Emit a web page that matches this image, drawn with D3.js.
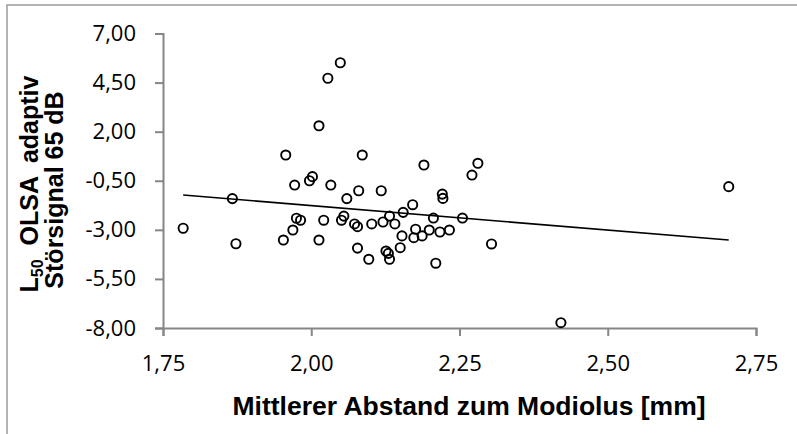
<!DOCTYPE html>
<html>
<head>
<meta charset="utf-8">
<script src="https://cdn.jsdelivr.net/npm/d3@7"></script>
<style>
  html, body { margin: 0; padding: 0; background: #fff; }
  svg { display: block; }
</style>
</head>
<body>
<svg id="chart" width="797" height="434"></svg>
<script>
// Mittlerer Abstand zum Modiolus [mm] vs. L50 OLSA adaptiv (Störsignal 65 dB)
const abstand = [
  2.049, 2.028, 2.013, 1.957, 2.086, 1.784, 1.867, 1.873, 1.953, 1.969,
  1.975, 1.982, 1.972, 1.997, 2.002, 2.013, 2.021, 2.033, 2.051, 2.055,
  2.060, 2.073, 2.078, 2.080, 2.078, 2.097, 2.102, 2.118, 2.121, 2.132,
  2.126, 2.130, 2.132, 2.141, 2.155, 2.171, 2.153, 2.150, 2.176, 2.173,
  2.187, 2.199, 2.206, 2.217, 2.233, 2.255, 2.221, 2.222, 2.190, 2.271,
  2.281, 2.304, 2.210, 2.421, 2.704
];
const l50 = [
  5.51, 4.72, 2.30, 0.81, 0.81, -2.92, -1.41, -3.71, -3.52, -3.01,
  -2.41, -2.51, -0.72, -0.50, -0.29, -3.52, -2.51, -0.72, -2.51, -2.30,
  -1.41, -2.70, -2.84, -1.01, -3.93, -4.50, -2.70, -1.01, -2.60, -2.30,
  -4.08, -4.20, -4.50, -2.70, -2.11, -1.72, -3.31, -3.91, -2.97, -3.40,
  -3.31, -3.01, -2.40, -3.11, -3.01, -2.40, -1.18, -1.40, 0.30, -0.21,
  0.39, -3.72, -4.70, -7.73, -0.80
];
const xTicks = [1.75, 2.00, 2.25, 2.50, 2.75];
const yTicks = [7.00, 4.50, 2.00, -0.50, -3.00, -5.50, -8.00];

const svg = d3.select("#chart");
const fmt = v => d3.format(".2f")(v).replace(".", ",").replace("−", "-");

const x = d3.scaleLinear().domain([1.75, 2.75]).range([163, 756]);
const y = d3.scaleLinear().domain([-8, 7]).range([328, 33.5]);

// outer chart frame
svg.append("rect")
  .attr("x", 7).attr("y", 5).attr("width", 800).attr("height", 440)
  .attr("fill", "none").attr("stroke", "#9a9a9a").attr("stroke-width", 1.5);

const axisColor = "#868686";
const tickFont = "'Open Sans', 'Liberation Sans', sans-serif";

// y axis
const yAxis = svg.append("g").attr("transform", "translate(163,0)")
  .call(d3.axisLeft(y).tickValues(yTicks).tickFormat(fmt).tickSizeOuter(0).tickSize(8).tickPadding(19));
// x axis
const xAxis = svg.append("g").attr("transform", "translate(0,328)")
  .call(d3.axisBottom(x).tickValues(xTicks).tickFormat(fmt).tickSizeOuter(0).tickSize(8).tickPadding(19));

[yAxis, xAxis].forEach(g => {
  g.select(".domain").attr("stroke", axisColor).attr("stroke-width", 2);
  g.selectAll(".tick line").attr("stroke", axisColor).attr("stroke-width", 2);
  g.selectAll(".tick text")
    .attr("fill", "#000")
    .style("font-family", tickFont)
    .style("font-size", "22px");
});

// linear trend line over the data range
const n = abstand.length;
const mx = d3.mean(abstand), my = d3.mean(l50);
let sxy = 0, sxx = 0;
for (let i = 0; i < n; i++) {
  sxy += (abstand[i] - mx) * (l50[i] - my);
  sxx += (abstand[i] - mx) ** 2;
}
const slope = sxy / sxx, intercept = my - slope * mx;
const xr = d3.extent(abstand);
svg.append("line")
  .attr("x1", x(xr[0])).attr("y1", y(intercept + slope * xr[0]))
  .attr("x2", x(xr[1])).attr("y2", y(intercept + slope * xr[1]))
  .attr("stroke", "#000").attr("stroke-width", 1.6);

// data points
svg.append("g").selectAll("circle")
  .data(d3.range(n))
  .join("circle")
  .attr("cx", i => x(abstand[i]))
  .attr("cy", i => y(l50[i]))
  .attr("r", 4.6)
  .attr("fill", "none")
  .attr("stroke", "#000")
  .attr("stroke-width", 1.9);

// axis titles
const titleFont = "'Liberation Sans', Arial, sans-serif";
svg.append("text")
  .attr("x", 469).attr("y", 415)
  .attr("text-anchor", "middle")
  .style("font-family", titleFont).style("font-weight", "bold").style("font-size", "26.5px")
  .text("Mittlerer Abstand zum Modiolus [mm]");

const yt = svg.append("g").attr("transform", "rotate(-90)");
const l1 = yt.append("text")
  .attr("x", -184).attr("y", 38)
  .attr("text-anchor", "middle")
  .style("font-family", titleFont).style("font-weight", "bold").style("font-size", "25px");
l1.append("tspan").text("L");
l1.append("tspan").attr("dy", 5).style("font-size", "16px").text("50");
l1.append("tspan").attr("dy", -5).attr("xml:space", "preserve").text("  OLSA  adaptiv");
yt.append("text")
  .attr("x", -190).attr("y", 63)
  .attr("text-anchor", "middle")
  .style("font-family", titleFont).style("font-weight", "bold").style("font-size", "25px")
  .text("Störsignal 65 dB");
</script>
</body>
</html>
